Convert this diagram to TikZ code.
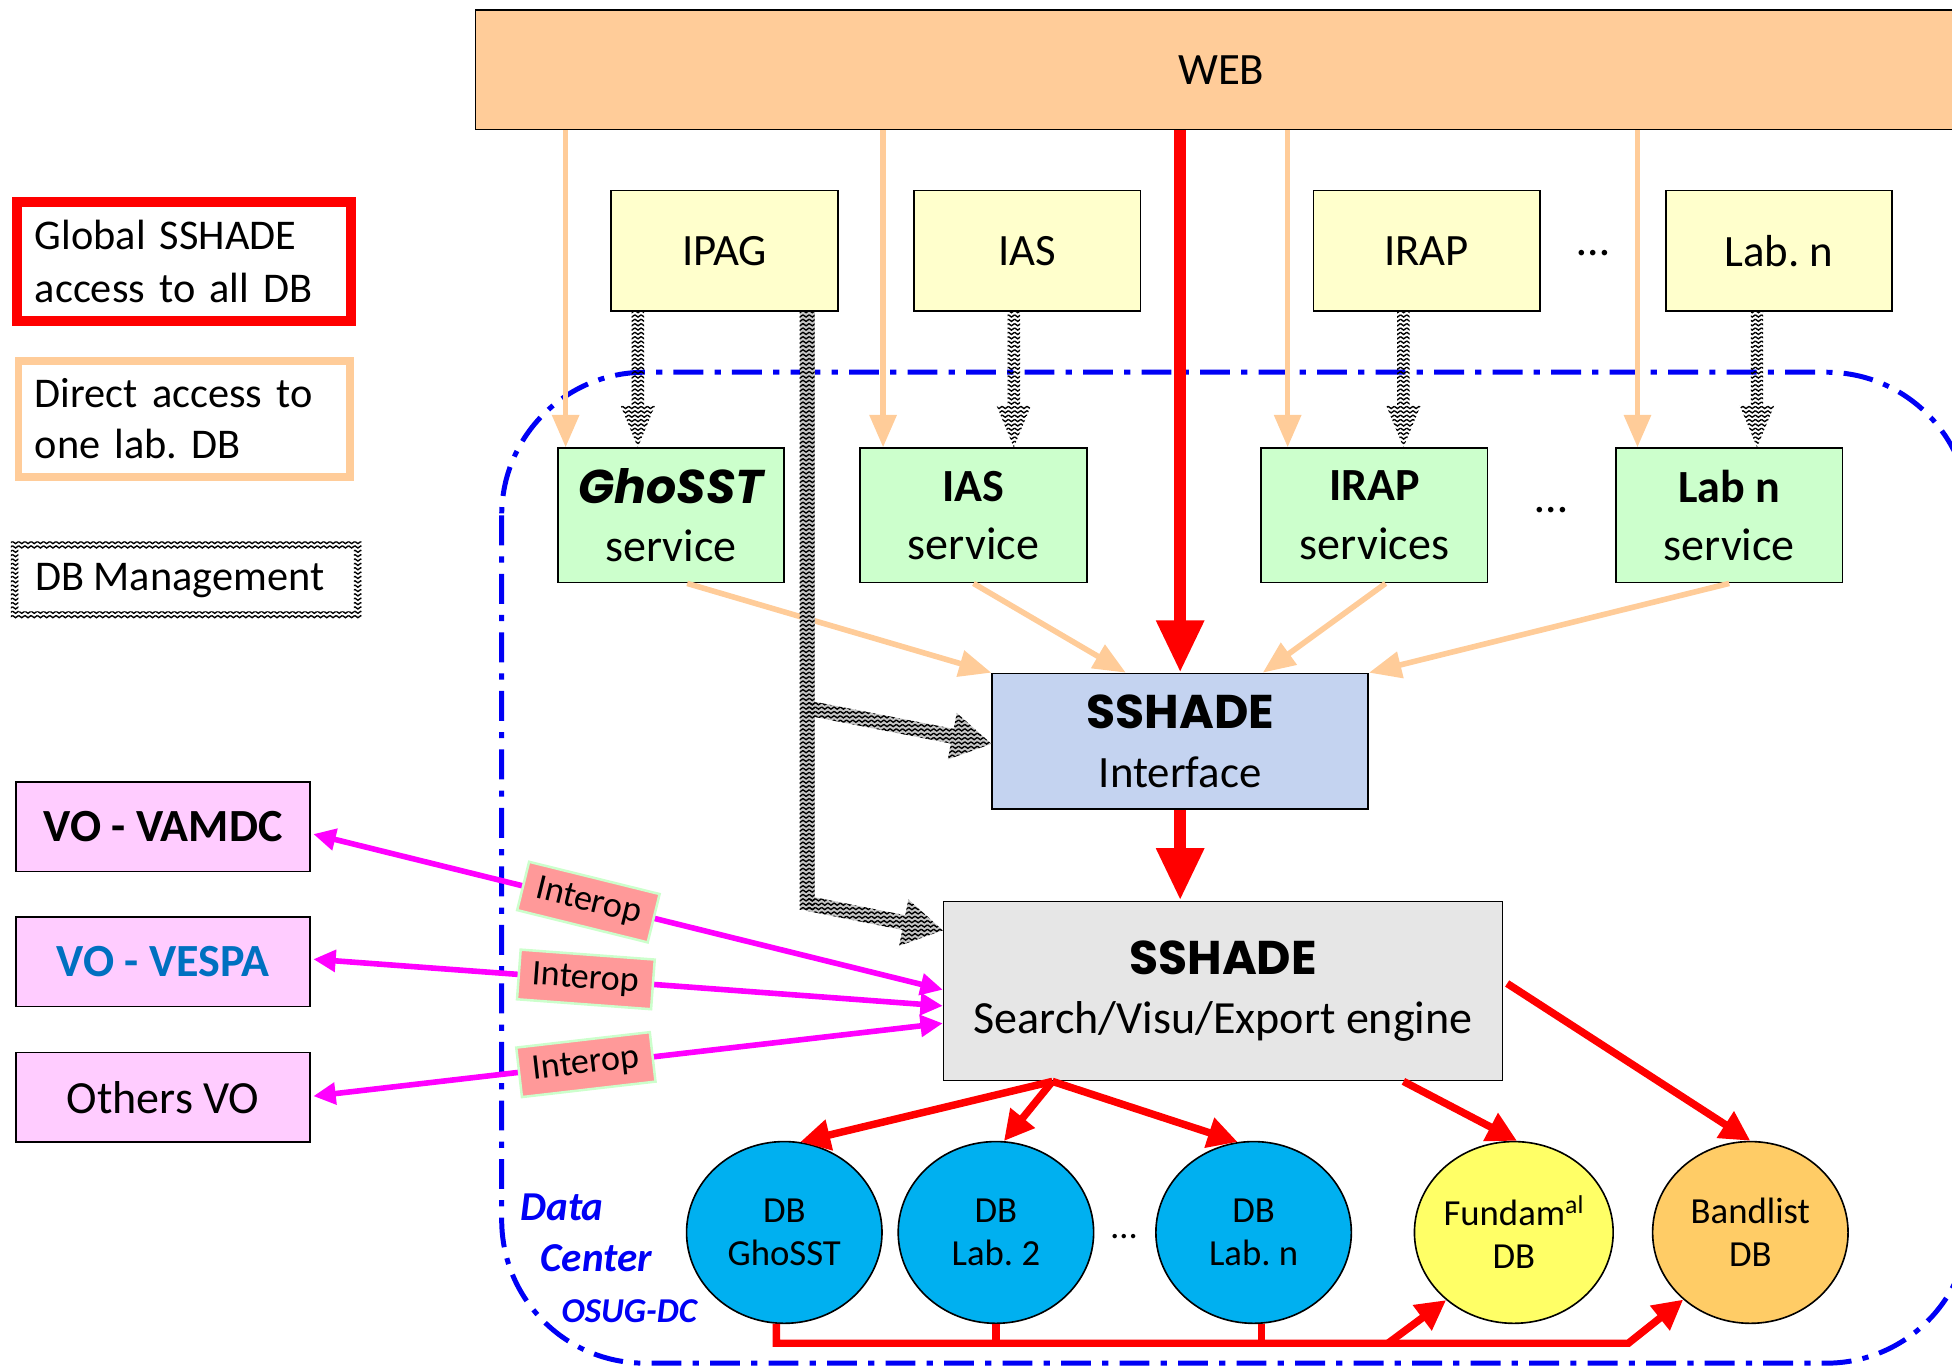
\documentclass[tikz,border=0pt]{standalone}
\usepackage{fontspec}
\setmainfont{Carlito}
\newfontfamily\comic{Poppins}
\usetikzlibrary{arrows.meta,shapes.geometric,calc,patterns}
\newcommand\fsz[2]{\fontsize{#1}{#2}\selectfont}
\frenchspacing
\definecolor{webc}{RGB}{255,204,153}
\definecolor{labc}{RGB}{255,255,204}
\definecolor{svcc}{RGB}{204,255,204}
\definecolor{voc}{RGB}{255,204,255}
\definecolor{ifc}{RGB}{196,211,240}
\definecolor{engc}{RGB}{230,230,230}
\definecolor{dbblue}{RGB}{0,176,240}
\definecolor{fundc}{RGB}{255,255,102}
\definecolor{bandc}{RGB}{255,204,102}
\definecolor{magc}{RGB}{255,0,255}
\definecolor{interc}{RGB}{255,153,153}
\definecolor{intgreen}{RGB}{204,255,204}
\definecolor{vespac}{RGB}{0,112,192}
\definecolor{dcblue}{RGB}{0,0,245}
\pgfdeclarepatternformonly{chev}{\pgfpoint{-1pt}{-1pt}}{\pgfpoint{6pt}{4.5pt}}{\pgfpoint{5pt}{3.5pt}}{%
  \pgfsetlinewidth{1.1pt}%
  \pgfpathmoveto{\pgfpoint{0pt}{2.6pt}}%
  \pgfpathlineto{\pgfpoint{2.5pt}{0.8pt}}%
  \pgfpathlineto{\pgfpoint{5pt}{2.6pt}}%
  \pgfusepath{stroke}}
% patterned "wide" arrow: from, to, half shaft, half head, head length, style
\newcommand\zzarrow[6]{%
  \fill[#6] let \p1=(#1), \p2=(#2), \n1={atan2(\y2-\y1,\x2-\x1)} in
  ($(\p1)+({\n1+90}:#3)$) -- ($(\p2)+({\n1+180}:#5)+({\n1+90}:#3)$) --
  ($(\p2)+({\n1+180}:#5)+({\n1+90}:#4)$) -- (\p2) --
  ($(\p2)+({\n1+180}:#5)+({\n1-90}:#4)$) -- ($(\p2)+({\n1+180}:#5)+({\n1-90}:#3)$) --
  ($(\p1)+({\n1-90}:#3)$) -- cycle;}
\begin{document}
\begin{tikzpicture}[x=1pt,y=-1pt,
  box/.style={draw=black, line width=1.3pt, inner sep=0pt, align=center},
  lab/.style={box, fill=labc, minimum width=182pt, minimum height=97pt, font=\fsz{36}{43}},
  svc/.style={box, fill=svcc, minimum width=182pt, minimum height=108pt, font=\fsz{37}{47}},
  vo/.style={box, fill=voc, minimum width=236pt, minimum height=72pt, font=\fsz{37}{44}},
  dbc/.style={ellipse, draw=black, line width=1.3pt, minimum width=157pt, minimum height=146pt, inner sep=0pt, align=center, font=\fsz{29.5}{35}},
  peacharrow/.style={draw=webc, line width=4.5pt, -{Triangle[length=26pt,width=21pt]}},
  redbig/.style={draw=red, line width=10pt, -{Triangle[length=42pt,width=36pt]}},
  redmid/.style={draw=red, line width=6pt, -{Triangle[length=24pt,width=24pt]}},
  redbus/.style={draw=red, line width=6pt},
  mag/.style={draw=magc, line width=4.5pt, {Triangle[length=18pt,width=17pt]}-{Triangle[length=18pt,width=17pt]}},
  interop/.style={fill=interc, draw=intgreen, line width=2pt, font=\fsz{29}{34}, minimum width=108pt, minimum height=40pt, inner sep=2pt, sloped},
  zz/.style={pattern=chev},
  zzshadow/.style={fill=black!22, shift={(4pt,-3pt)}},
  dots/.style={font=\fsz{37}{44}, inner sep=0pt},
  dctext/.style={text=dcblue, inner sep=0pt, anchor=west, font={\fsz{33}{40}\bfseries\itshape}},
]
\useasboundingbox (0,0) rectangle (1568,1099);
\clip (0,0) rectangle (1568,1099);

% data center frame
\draw[dcblue, line width=4pt, dash pattern=on 24pt off 9pt on 5pt off 9pt, rounded corners=115pt]
  (403,299) rectangle (1582,1095);
\node[dctext] (dc1) at (418,970) {Data};
\node[dctext] (dc2) at (434,1011) {Center};
\node[dctext, font={\fsz{28}{34}\bfseries\itshape}] (dc3) at (451,1053) {OSUG-DC};

% legend
\node[draw=red, line width=8pt, text width=240pt, inner xsep=14pt, inner ysep=0pt, minimum height=96pt, align=left, font=\fsz{34}{42}] (leg1) at (148,210) {Global SSHADE\\access to all DB};
\node[draw=webc, line width=6pt, text width=240pt, inner xsep=13pt, inner ysep=0pt, minimum height=93pt, align=left, font=\fsz{34}{41}] (leg2) at (148,336.5) {Direct access to\\one lab. DB};
\node[minimum width=281pt, minimum height=62pt, inner sep=0pt] (dbm) at (149.5,466) {};
\fill[zz, even odd rule] (dbm.north west) rectangle (dbm.south east)
  ($(dbm.north west)+(6,6)$) rectangle ($(dbm.south east)+(-6,-6)$);
\node[anchor=west, inner sep=0pt, font=\fsz{34}{41}] (dbmtxt) at (28,466) {DB Management};

% web
\node[box, fill=webc, minimum width=1198pt, minimum height=96pt, font=\fsz{36}{43}] (web) at (981,56) {WEB};

% labs
\node[lab] (ipag) at (582,201.5) {IPAG};
\node[lab] (ias)  at (825,201.5) {IAS};
\node[lab] (irap) at (1146,201.5) {IRAP};
\node[lab] (labn) at (1429,201.5) {Lab. n};
\node[dots] (d1) at (1280,203) {…};

% services
\node[svc] (ghosst)  at (539,414) {{\comic\bfseries\itshape\fsz{38}{47}GhoSST}\\service};
\node[svc] (iassvc)  at (782,414) {{\bfseries IAS}\\service};
\node[svc] (irapsvc) at (1104,414) {{\bfseries IRAP}\\services};
\node[svc] (labnsvc) at (1389,414) {{\bfseries Lab n}\\service};
\node[dots] (d2) at (1246,410) {…};

% interface and engine
\node[box, fill=ifc, minimum width=302pt, minimum height=109pt, font=\fsz{36}{47}] (interface) at (948,595.5) {{\comic\bfseries\fsz{38}{47}SSHADE}\\Interface};
\node[box, fill=engc, minimum width=449pt, minimum height=144pt, font=\fsz{37}{47}] (engine) at (982.5,796) {{\comic\bfseries\fsz{38}{47}SSHADE}\\Search/Visu/Export engine};

% VO
\node[vo] (vamdc)  at (131,664) {\bfseries VO - VAMDC};
\node[vo] (vespa)  at (131,772.5) {\color{vespac}\bfseries VO - VESPA};
\node[vo] (others) at (131,881.5) {Others VO};

% DBs
\node[dbc, fill=dbblue] (ghosstdb) at (630,990) {DB\\GhoSST};
\node[dbc, fill=dbblue] (lab2db)   at (800,990) {DB\\Lab. 2};
\node[dbc, fill=dbblue] (labndb)   at (1007,990) {DB\\Lab. n};
\node[dbc, fill=fundc]  (fundb)    at (1216,990) {Fundam\textsuperscript{al}\\DB};
\node[dbc, fill=bandc]  (banddb)   at (1406,990) {Bandlist\\DB};
\node[font=\fsz{29.5}{35}, inner sep=0pt] (d3) at (903,993) {…};

% direct lab access (web -> services)
\coordinate (o1) at ($(ghosst.north west)+(7,0)$);
\coordinate (o2) at ($(iassvc.north west)+(19,0)$);
\coordinate (o3) at ($(irapsvc.north west)+(22,0)$);
\coordinate (o4) at ($(labnsvc.north west)+(18,0)$);
\foreach \c in {o1,o2,o3,o4} \draw[peacharrow] (web.south -| \c) -- (\c);

% services -> interface
\draw[peacharrow] ($(ghosst.south)+(13,0)$) -- (interface.north west);
\draw[peacharrow] (iassvc.south) -- ($(interface.north west)+(108,0)$);
\draw[peacharrow] ($(irapsvc.south)+(9,0)$) -- ($(interface.north west)+(218,0)$);
\draw[peacharrow] (labnsvc.south) -- (interface.north east);

% global access
\draw[redbig] (web.south -| interface.north) -- (interface.north);
\draw[redbig] (interface.south) -- (interface.south |- engine.north);

% DB management arrows (lab -> service)
\coordinate (s1a) at ($(ipag.south west)+(22,0)$);  \coordinate (s1b) at (s1a |- ghosst.north);
\coordinate (s2a) at ($(ias.south west)+(81,0)$);   \coordinate (s2b) at (s2a |- iassvc.north);
\coordinate (s3a) at ($(irap.south west)+(73,0)$);  \coordinate (s3b) at (s3a |- irapsvc.north);
\coordinate (s4a) at ($(labn.south west)+(74,0)$);  \coordinate (s4b) at (s4a |- labnsvc.north);
\zzarrow{s1a}{s1b}{5pt}{14pt}{34pt}{zz}
\zzarrow{s2a}{s2b}{5pt}{14pt}{34pt}{zz}
\zzarrow{s3a}{s3b}{5pt}{14pt}{34pt}{zz}
\zzarrow{s4a}{s4b}{5pt}{14pt}{34pt}{zz}

% DB management (IPAG -> interface and engine)
\coordinate (bigtop) at ($(ipag.south west)+(158,0)$);
\coordinate (bigbot) at ($(bigtop)+(0,480)$);
\coordinate (b1) at ($(bigtop)+(0,318)$);
\coordinate (b2) at ($(bigtop)+(0,475)$);
\coordinate (t1) at ($(interface.west)+(0,2)$);
\coordinate (t2) at ($(engine.north west)+(0,24)$);
\foreach \st in {zzshadow,zz}{
  \fill[\st] let \p1=($(bigtop)+(-6,0)$), \p2=($(bigbot)+(6,0)$) in (\p1) rectangle (\p2);
  \zzarrow{b1}{t1}{6pt}{19pt}{32pt}{\st}
  \zzarrow{b2}{t2}{6pt}{19pt}{32pt}{\st}
}

% interop
\coordinate (e1) at ($(engine.west)+(0,-1)$);
\coordinate (e2) at ($(engine.west)+(0,12)$);
\coordinate (e3) at ($(engine.west)+(0,26)$);
\draw[mag] ($(vamdc.east)+(2,6)$) -- node[interop, pos=0.437] (i1) {Interop} (e1);
\draw[mag] ($(vespa.east)+(2,-2)$) -- node[interop, pos=0.433] (i2) {Interop} (e2);
\draw[mag] ($(others.east)+(2,-1)$) -- node[interop, pos=0.433] (i3) {Interop} (e3);

% engine -> DBs
\coordinate (es) at ($(engine.south west)+(88,0)$);
\coordinate (ef) at ($(engine.south west)+(370,0)$);
\coordinate (eb) at ($(engine.east)+(3,-6)$);
\draw[redmid] (es) -- (ghosstdb.80);
\draw[redmid] (es) -- (lab2db.85);
\draw[redmid] (es) -- (labndb.100);
\draw[redmid] (ef) -- (fundb.88);
\draw[redmid] (eb) -- (banddb.90);

% DB bus
\coordinate (busR) at (1308,1079);
\coordinate (busF) at (1115,1079);
\draw[redmid] (ghosstdb.265) |- (busR) -- (banddb.225);
\draw[redbus] (lab2db.south) -- (lab2db.south |- busR);
\draw[redbus] (labndb.275) -- (labndb.275 |- busR);
\draw[redmid] (busF) -- (fundb.225);
\end{tikzpicture}
\end{document}
